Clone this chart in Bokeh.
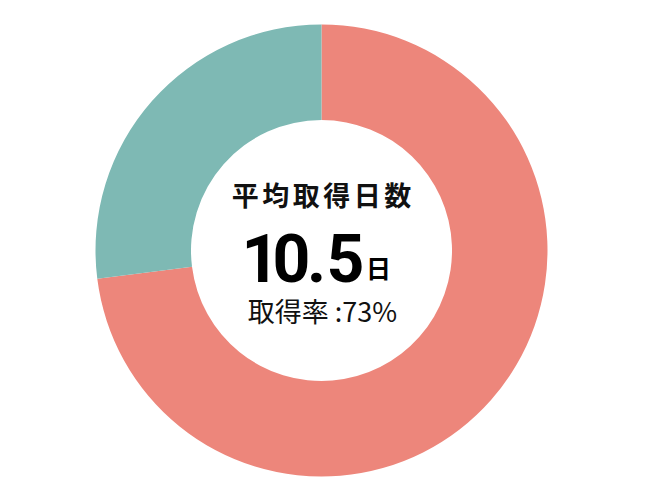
import numpy as np
from bokeh.plotting import figure
from bokeh.models import Range1d
from bokeh.core.properties import value
from bokeh.embed import file_html
from bokeh.resources import INLINE

# data
labels = ["取得", "未取得"]
shares = [73, 27]
colors = ["#ED867B", "#7EB9B4"]
title = "平均取得日数"
avg_days = "10.5"
unit = "日"
rate_label = "取得率 :73%"

# wedge angles, clockwise from 12 o'clock
frac = np.array(shares) / sum(shares)
ends = np.pi / 2 - 2 * np.pi * np.cumsum(frac)
starts = np.concatenate([[np.pi / 2], ends[:-1]])

# data coords = screenshot pixels (y flipped: y = 500 - py)
p = figure(width=634, height=484, output_backend="svg", toolbar_location=None,
           x_range=Range1d(0, 634), y_range=Range1d(16, 500),
           min_border=0, outline_line_color=None)
p.axis.visible = False
p.grid.visible = False

cx, cy = 321, 250

p.annular_wedge(x=cx, y=cy, inner_radius=130.5, outer_radius=226,
                start_angle=starts, end_angle=ends, direction="clock",
                color=colors, line_color=None)

# title with letter spacing
step = 30.5
xs = [cx - step * (len(title) - 1) / 2 + i * step for i in range(len(title))]
p.text(x=xs, y=[cy + 56] * len(title), text=list(title),
       text_font=value("Noto Sans CJK JP"), text_font_style="bold",
       text_font_size="27px", text_align="center", text_baseline="middle",
       text_color="#111111")

# big number, tightly spaced glyphs
num_x = [cx - 61, cx - 30, cx - 5, cx + 24]
p.text(x=num_x, y=[cy - 7] * len(avg_days), text=list(avg_days),
       text_font=value("Roboto"), text_font_style="bold",
       text_font_size="66px", text_align="center", text_baseline="alphabetic",
       text_color="#000000")
p.text(x=[cx + 57], y=[cy - 16], text=[unit],
       text_font=value("Noto Sans CJK JP"), text_font_style="bold",
       text_font_size="25px", text_align="center", text_baseline="alphabetic",
       text_color="#000000")

p.text(x=[cx + 1], y=[cy - 60], text=[rate_label],
       text_font=value("Noto Sans CJK JP"), text_font_size="27px",
       text_align="center", text_baseline="middle", text_color="#111111")

open("out.html", "w").write(file_html(p, INLINE))
